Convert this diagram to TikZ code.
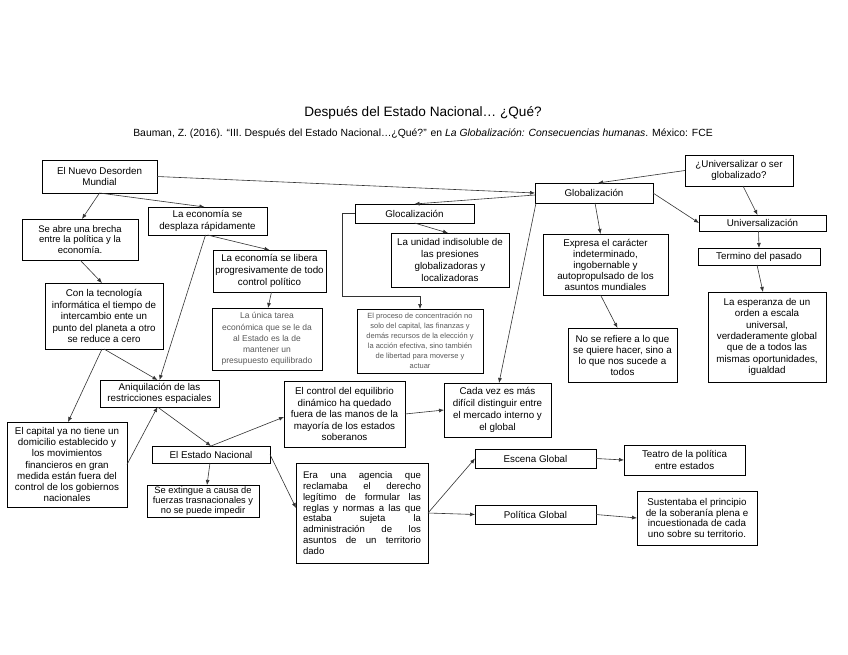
\documentclass[tikz,border=0pt]{standalone}
\usepackage{fontspec}
\setmainfont{Liberation Sans}
\usetikzlibrary{arrows.meta,calc}
\newcommand\jline[1]{\hbox to 118pt{#1}}
\begin{document}
\begin{tikzpicture}[x=1pt,y=-1pt,
  box/.style={draw=black, line width=0.7pt, inner sep=1pt, outer sep=0pt, align=center,
    font=\fontsize{9.8}{11.3}\selectfont},
  graybox/.style={box, text=black!65},
  arr/.style={draw=black!80, line width=0.6pt, -{Latex[length=5pt,width=4pt]}},
  ttl/.style={font=\fontsize{13.6}{15}\selectfont},
  cit/.style={font=\fontsize{10.4}{12}\selectfont}]
\fill[white] (0,0) rectangle (848,655);
\useasboundingbox (0,0) rectangle (848,655);

\node[ttl] (title) at (423,113) {Después del Estado Nacional… ¿Qué?};
\node[cit] (cite) at (423,134) {Bauman, Z. (2016). “III. Después del Estado Nacional…¿Qué?” en \textit{La Globalización: Consecuencias humanas}. México: FCE};

\node[box, minimum width=115pt, minimum height=33pt] (nd) at (99.5,176.5) {El Nuevo Desorden\\Mundial};
\node[box, minimum width=116pt, minimum height=41pt, font=\fontsize{9.5}{10.2}\selectfont] (brecha) at (80,239.5) {Se abre una brecha\\entre la política y la\\economía.};
\node[box, minimum width=119pt, minimum height=28pt] (desplaza) at (207.5,221) {La economía se\\desplaza rápidamente};
\node[box, minimum width=113pt, minimum height=42pt, font=\fontsize{9.8}{11.7}\selectfont] (libera) at (269.5,271) {La economía se libera\\progresivamente de todo\\control político};
\node[graybox, minimum width=110pt, minimum height=62pt, font=\fontsize{8.5}{11.2}\selectfont] (unica) at (267,339) {La única tarea\\económica que se le da\\al Estado es la de\\mantener un\\presupuesto equilibrado};
\node[box, minimum width=118pt, minimum height=66pt, font=\fontsize{9.8}{11.5}\selectfont] (tecno) at (104,316) {Con la tecnología\\informática el tiempo de\\intercambio ente un\\punto del planeta a otro\\se reduce a cero};
\node[box, minimum width=119pt, minimum height=27pt] (aniq) at (159.5,393.5) {Aniquilación de las\\restricciones espaciales};
\node[box, minimum width=120pt, minimum height=85pt] (capital) at (67,464.5) {El capital ya no tiene un\\domicilio establecido y\\los movimientos\\financieros en gran\\medida están fuera del\\control de los gobiernos\\nacionales};
\node[box, minimum width=118pt, minimum height=17pt] (estado) at (211,454.5) {El Estado Nacional};
\node[box, minimum width=112pt, minimum height=32pt, inner sep=0.5pt, font=\fontsize{9.3}{9.8}\selectfont] (extingue) at (203,501) {Se extingue a causa de\\fuerzas trasnacionales y\\no se puede impedir};
\node[box, minimum width=121pt, minimum height=66pt, font=\fontsize{9.8}{11.5}\selectfont] (control) at (344.5,414) {El control del equilibrio\\dinámico ha quedado\\fuera de las manos de la\\mayoría de los estados\\soberanos};
\node[box, minimum width=132pt, minimum height=100pt, font=\fontsize{9.6}{10.8}\selectfont] (era) at (362,513) {\vbox{\jline{Era una agencia que}\jline{reclamaba el derecho}\jline{legítimo de formular las}\jline{reglas y normas a las que}\jline{estaba sujeta la}\jline{administración de los}\jline{asuntos de un territorio}\hbox to 118pt{dado\hfil}}};
\node[box, minimum width=107pt, minimum height=54pt, font=\fontsize{9.8}{11.9}\selectfont] (cada) at (497.5,410) {Cada vez es más\\difícil distinguir entre\\el mercado interno y\\el global};
\node[box, minimum width=121pt, minimum height=19pt] (escena) at (535.5,458.5) {Escena Global};
\node[box, minimum width=121pt, minimum height=19pt] (politica) at (535.5,514.5) {Política Global};
\node[box, minimum width=121pt, minimum height=30pt] (teatro) at (684.5,460) {Teatro de la política\\entre estados};
\node[box, minimum width=120pt, minimum height=54pt, font=\fontsize{9.8}{10.8}\selectfont] (sustenta) at (697,518) {Sustentaba el principio\\de la soberanía plena e\\incuestionada de cada\\uno sobre su territorio.};
\node[box, minimum width=119pt, minimum height=19pt] (glocal) at (414.5,213.5) {Glocalización};
\node[box, minimum width=118pt, minimum height=54pt, font=\fontsize{9.8}{11.7}\selectfont] (unidad) at (450,260) {La unidad indisoluble de\\las presiones\\globalizadoras y\\localizadoras};
\node[graybox, minimum width=126pt, minimum height=64pt, font=\fontsize{7.5}{9.9}\selectfont] (proceso) at (420,341) {El proceso de concentración no\\solo del capital, las finanzas y\\demás recursos de la elección y\\la acción efectiva, sino también\\de libertad para moverse y\\actuar};
\node[box, minimum width=118pt, minimum height=20pt] (global) at (594,193) {Globalización};
\node[box, minimum width=108pt, minimum height=31pt] (univq) at (739,170.5) {¿Universalizar o ser\\globalizado?};
\node[box, minimum width=127pt, minimum height=16pt] (univ) at (762.5,223) {Universalización};
\node[box, minimum width=122pt, minimum height=17pt] (termino) at (759,256.5) {Termino del pasado};
\node[box, minimum width=125pt, minimum height=61pt, font=\fontsize{9.8}{11}\selectfont] (expresa) at (605.5,264.5) {Expresa el carácter\\indeterminado,\\ingobernable y\\autopropulsado de los\\asuntos mundiales};
\node[box, minimum width=109pt, minimum height=54pt, font=\fontsize{9.8}{11}\selectfont] (norefiere) at (622.5,355) {No se refiere a lo que\\se quiere hacer, sino a\\lo que nos sucede a\\todos};
\node[box, minimum width=118pt, minimum height=90pt] (esperanza) at (767,337) {La esperanza de un\\orden a escala\\universal,\\verdaderamente global\\que de a todos las\\mismas oportunidades,\\igualdad};

% connectors
\draw[arr] (nd.south) -- ([xshift=2pt]brecha.north);
\draw[arr] (nd.south) -- ([xshift=-3pt]desplaza.north);
\draw[arr] (nd.east) -- (global.west);
\draw[arr] ([yshift=-2pt]global.west) -- (glocal.north);
\draw[arr] (glocal.south) -- ([xshift=-2pt]unidad.north);
\draw[arr] (glocal.west) -- ++(-13,0) |- ([yshift=13pt]proceso.north) -- (proceso.north);
\draw[arr] ([xshift=1pt]global.south west) -- ([xshift=1.5pt]cada.north);
\draw[arr] (univq.west) -- ([xshift=4pt]global.north);
\draw[arr] (global.east) -- (univ.west);
\draw[arr] ([xshift=4pt]univq.south) -- ([xshift=-5pt]univ.north);
\draw[arr] ([xshift=1pt]global.south) -- ([xshift=-5pt]expresa.north);
\draw[arr] ([xshift=-4pt]univ.south) -- (termino.north);
\draw[arr] ([xshift=-2pt]termino.south) -- ([xshift=-4pt]esperanza.north);
\draw[arr] ([xshift=-5pt]expresa.south) -- ([xshift=-5pt]norefiere.north);
\draw[arr] (desplaza.south) -- (libera.north);
\draw[arr] ([xshift=-2pt]desplaza.south) -- (aniq.north);
\draw[arr] ([xshift=2pt]libera.south) -- ([xshift=1pt]unica.north);
\draw[arr] (brecha.south) -- ([xshift=-2pt]tecno.north);
\draw[arr] (tecno.south) -- ([xshift=-2pt]aniq.north);
\draw[arr] ([xshift=-2pt]tecno.south) -- ([xshift=1pt]capital.north);
\draw[arr] (capital.east) -- ([xshift=-2pt]aniq.south);
\draw[arr] ([xshift=-2pt]aniq.south) -- (estado.north);
\draw[arr] (estado.north) -- ([yshift=-3pt]control.west);
\draw[arr] (control.east) -- (cada.west);
\draw[arr] ([xshift=-1pt]estado.south) -- ([xshift=4pt]extingue.north);
\draw[arr] (estado.east) -- ([yshift=5pt]era.west);
\draw[arr] (era.east) -- (escena.west);
\draw[arr] (era.east) -- (politica.west);
\draw[arr] (escena.east) -- (teatro.west);
\draw[arr] (politica.east) -- (sustenta.west);
\end{tikzpicture}
\end{document}
